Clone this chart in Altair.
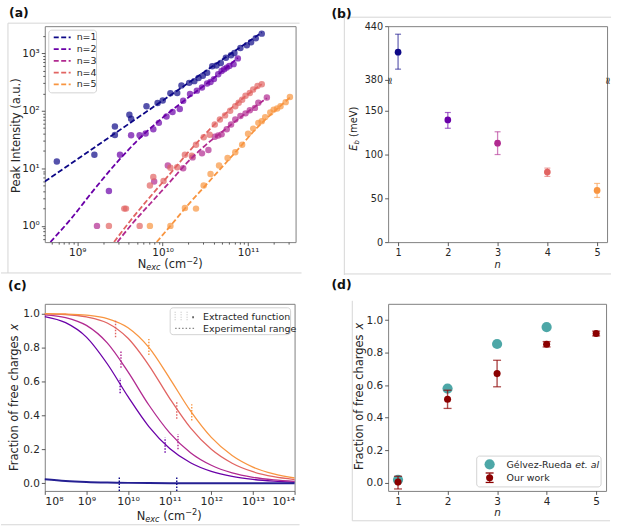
import altair as alt
import pandas as pd

# ---------------- data ----------------
SERIES = ["n=1", "n=2", "n=3", "n=4", "n=5"]
N_VALUES = [1, 2, 3, 4, 5]
COLORS_AC = ["#0d0887", "#6a00a8", "#b12a90", "#e16462", "#f89540"]
COLORS_B = ["#0d0887", "#6a00a8", "#b12a90", "#e16462", "#fca636"]

# (a) peak intensity vs excitation density (log10 readings)
a1_logN = [8.76, 9.20, 9.44, 9.44, 9.61, 9.63, 9.81, 9.94, 10.00, 10.09, 10.17, 10.22, 10.31, 10.37,
           10.42, 10.47, 10.52, 10.58, 10.63, 10.68, 10.74, 10.80, 10.84, 10.91, 10.985, 11.035, 11.09, 11.16]
a1_logI = [1.12, 1.235, 1.58, 1.725, 1.93, 1.86, 2.08, 2.135, 2.18, 2.305, 2.31, 2.44, 2.485, 2.515,
           2.57, 2.61, 2.66, 2.775, 2.785, 2.83, 2.92, 2.965, 3.005, 3.09, 3.14, 3.19, 3.26, 3.34]
a2_logN = [9.37, 9.50, 9.63, 9.73, 9.80, 9.89, 9.955, 10.045, 10.115, 10.20, 10.24, 10.32, 10.40, 10.46,
           10.52, 10.56, 10.60, 10.65, 10.69, 10.72, 10.75, 10.78, 10.83, 10.88]
a2_logI = [0.605, 1.235, 1.575, 1.575, 1.605, 1.68, 1.79, 1.90, 1.98, 2.03, 2.175, 2.29, 2.35, 2.405,
           2.475, 2.50, 2.55, 2.635, 2.69, 2.72, 2.75, 2.78, 2.81, 2.91]
a3_logN = [9.23, 9.90, 10.06, 10.24, 10.35, 10.46, 10.535, 10.61, 10.65, 10.69, 10.75, 10.80, 10.85,
           10.91, 10.97, 11.02, 11.08, 11.12, 11.22]
a3_logI = [0.0, 0.77, 1.05, 1.0, 1.19, 1.26, 1.32, 1.55, 1.57, 1.59, 1.68, 1.76, 1.85,
           1.91, 1.955, 2.01, 2.05, 2.14, 2.23]
a4_logN = [9.37, 9.55, 9.57, 9.73, 9.85, 9.89, 10.01, 10.09, 10.17, 10.26, 10.34, 10.39, 10.48, 10.55,
           10.61, 10.67, 10.73, 10.79, 10.85, 10.89, 10.93, 10.97, 11.02, 11.06, 11.11, 11.16]
a4_logI = [0.0, 0.30, 0.30, 0.0, 0.70, 0.85, 0.78, 1.01, 1.02, 1.235, 1.22, 1.41, 1.54, 1.585,
           1.76, 1.85, 1.92, 2.0, 2.08, 2.14, 2.19, 2.26, 2.31, 2.37, 2.43, 2.46]
a5_logN = [9.85, 10.09, 10.26, 10.39, 10.48, 10.56, 10.66, 10.76, 10.85, 10.93, 11.0, 11.06, 11.12,
           11.16, 11.20, 11.26, 11.30, 11.34, 11.38, 11.44, 11.49]
a5_logI = [0.0, 0.0, 0.31, 0.30, 0.70, 0.90, 1.05, 1.18, 1.28, 1.41, 1.60, 1.69, 1.79,
           1.82, 1.89, 1.97, 2.02, 2.04, 2.08, 2.15, 2.24]

# (a) fitted curves (log10 readings)
f1_logN = [8.619, 11.16]
f1_logI = [0.77, 3.36]
f2_logN = [8.685, 8.93, 9.18, 9.45, 9.735, 10.0, 10.3, 10.6, 10.88]
f2_logI = [-0.28, 0.13, 0.60, 1.08, 1.53, 1.88, 2.23, 2.57, 2.92]
f3_logN = [9.47, 9.65, 9.85, 10.1, 10.3, 10.5, 10.7, 10.95, 11.22]
f3_logI = [-0.28, 0.05, 0.38, 0.79, 1.12, 1.40, 1.64, 1.93, 2.22]
f4_logN = [9.43, 9.6, 9.85, 10.1, 10.3, 10.5, 10.7, 10.9, 11.16]
f4_logI = [-0.28, 0.05, 0.50, 0.93, 1.28, 1.60, 1.90, 2.17, 2.46]
f5_logN = [9.93, 10.09, 10.3, 10.5, 10.7, 10.9, 11.1, 11.3, 11.49]
f5_logI = [-0.28, 0.0, 0.37, 0.70, 1.03, 1.36, 1.70, 1.98, 2.23]

# (b) binding energies
b_Eb = [411, 139.5, 113, 80, 59]
b_lo = [392, 130, 100, 75, 51]
b_hi = [431, 148, 126, 84.5, 67]

# (c) fraction of free charges vs excitation density
c_logN = [8.0, 8.5, 9.0, 9.5, 10.0, 10.5, 11.0, 11.5, 12.0, 12.5, 13.0, 13.5, 14.0]
c_x1 = [0.023, 0.013, 0.0073, 0.0041, 0.0023, 0.0013, 0.0007, 0.0004, 0.0002, 0.0001, 0.00007, 0.00004, 0.00002]
c_x2 = [0.982, 0.946, 0.861, 0.704, 0.510, 0.334, 0.205, 0.121, 0.070, 0.040, 0.023, 0.013, 0.007]
c_x3 = [0.992, 0.976, 0.930, 0.827, 0.656, 0.461, 0.297, 0.180, 0.106, 0.061, 0.035, 0.020, 0.011]
c_x4 = [0.998, 0.994, 0.980, 0.944, 0.854, 0.695, 0.500, 0.326, 0.200, 0.118, 0.068, 0.039, 0.022]
c_x5 = [0.999, 0.997, 0.990, 0.970, 0.916, 0.800, 0.618, 0.426, 0.270, 0.163, 0.095, 0.055, 0.031]
# (c) experimental range markers
cr_series = ["n=1", "n=1", "n=2", "n=2", "n=3", "n=3", "n=4", "n=4", "n=5", "n=5"]
cr_logN = [9.79, 11.17, 9.81, 10.89, 9.83, 11.20, 9.70, 11.17, 10.50, 11.53]
cr_lo = [-0.045, -0.045, 0.53, 0.18, 0.68, 0.20, 0.86, 0.38, 0.755, 0.37]
cr_hi = [0.043, 0.043, 0.62, 0.27, 0.78, 0.29, 0.96, 0.48, 0.85, 0.465]

# (d) fraction of free charges per n
d_ref_n = [1, 2, 3, 4]
d_ref_x = [0.018, 0.579, 0.853, 0.957]
d_our_x = [0.004, 0.514, 0.671, 0.851, 0.918]
d_our_lo = [-0.038, 0.457, 0.590, 0.835, 0.903]
d_our_hi = [0.040, 0.569, 0.753, 0.868, 0.932]
LEGEND_D = ["Gélvez-Rueda ", "et. al", "Our work"]
LEGEND_C = ["Extracted function", "Experimental range"]
FRAC_TICKS = [0.0, 0.2, 0.4, 0.6, 0.8, 1.0]

# ---------------- helpers ----------------
FONT = "DejaVu Sans"
TXT = "#262626"
FRAME = "#d6d6d6"
ONE = pd.DataFrame({"k": [0]})

CW = {' ': .318, '(': .390, ')': .390, '-': .361, '−': .838, '.': .318, 'a': .613, 'b': .635, 'c': .550,
      'd': .635, 'e': .615, 'f': .352, 'g': .635, 'h': .634, 'i': .278, 'k': .579, 'l': .278, 'm': .974,
      'n': .634, 'o': .612, 'r': .411, 's': .521, 't': .392, 'u': .634, 'v': .592, 'w': .818, 'x': .592,
      'y': .592, 'z': .525, 'E': .632, 'F': .575, 'G': .775, 'N': .748, 'R': .695, 'V': .684, 'é': .615}
for _d in "0123456789":
    CW[_d] = .636


def tw(s, size):
    return sum(CW.get(ch, 0.6) for ch in s) * size


def txt(s, x, y, size, italic=False, bold=False, angle=0, align="left", baseline="middle", color=TXT):
    kw = dict(text=s, fontSize=size, font=FONT, align=align, baseline=baseline, color=color)
    if italic:
        kw["fontStyle"] = "italic"
    if bold:
        kw["fontWeight"] = "bold"
    if angle:
        kw["angle"] = angle
    return alt.Chart(ONE).mark_text(**kw).encode(x=alt.value(x), y=alt.value(y))


def hcomp(pieces, cx, ybase):
    total = sum(tw(p[0], p[1]) for p in pieces)
    x = cx - total / 2
    out = []
    for s, size, it, shift in pieces:
        core = s.lstrip(" ")
        lead = tw(s[:len(s) - len(core)], size)
        out.append(txt(core, x + lead, ybase + shift, size, italic=it, baseline="alphabetic"))
        x += tw(s, size)
    return out


def vcomp(pieces, xbase, cy):
    total = sum(tw(p[0], p[1]) for p in pieces)
    y = cy + total / 2
    out = []
    for s, size, it, shift in pieces:
        core = s.lstrip(" ")
        lead = tw(s[:len(s) - len(core)], size)
        out.append(txt(core, xbase + shift, y - lead, size, italic=it, angle=270, baseline="alphabetic"))
        y -= tw(s, size)
    return out


def hline(x1, x2, y, color=FRAME, dash=None, width=1.0):
    kw = dict(color=color, strokeWidth=width)
    if dash:
        kw["strokeDash"] = dash
    return alt.Chart(ONE).mark_rule(**kw).encode(x=alt.value(x1), x2=alt.value(x2), y=alt.value(y))


def vline(x, y1, y2, color=FRAME, dash=None, width=1.0, opacity=1.0):
    kw = dict(color=color, strokeWidth=width, opacity=opacity)
    if dash:
        kw["strokeDash"] = dash
    return alt.Chart(ONE).mark_rule(**kw).encode(x=alt.value(x), y=alt.value(y1), y2=alt.value(y2))


def box(x1, y1, x2, y2):
    return alt.Chart(ONE).mark_rect(fill="white", stroke="#cccccc", strokeWidth=1, cornerRadius=3,
                                    opacity=0.85).encode(x=alt.value(x1), x2=alt.value(x2),
                                                         y=alt.value(y1), y2=alt.value(y2))


SUP = str.maketrans("0123456789", "⁰¹²³⁴⁵⁶⁷⁸⁹")


def log_labels(exps):
    parts = [f"abs(log(datum.value)/LN10 - {e}) < 0.01 ? '10{str(e).translate(SUP)}'" for e in exps]
    return " : ".join(parts) + " : ''"


def frac_axis():
    return alt.Axis(values=FRAC_TICKS, format=".1f", title=None, tickCount=50,
                    labelFontSize=10.5, labelOverlap=False)


col_ac = alt.Scale(domain=SERIES, range=COLORS_AC)
col_b = alt.Scale(domain=SERIES, range=COLORS_B)

# ---------------- panel (a) ----------------
rows = []
for s, xs, ys in zip(SERIES, [a1_logN, a2_logN, a3_logN, a4_logN, a5_logN],
                     [a1_logI, a2_logI, a3_logI, a4_logI, a5_logI]):
    for lx, ly in zip(xs, ys):
        rows.append({"n": s, "N": 10 ** lx, "I": 10 ** ly})
df_a = pd.DataFrame(rows)
rows = []
for s, xs, ys in zip(SERIES, [f1_logN, f2_logN, f3_logN, f4_logN, f5_logN],
                     [f1_logI, f2_logI, f3_logI, f4_logI, f5_logI]):
    for k, (lx, ly) in enumerate(zip(xs, ys)):
        rows.append({"n": s, "N": 10 ** lx, "I": 10 ** ly, "k": k})
df_fit = pd.DataFrame(rows)

AW, AH = 252, 217
xa = alt.Scale(type="log", domain=[10 ** 8.619, 10 ** 11.556], nice=False)
ya = alt.Scale(type="log", domain=[10 ** -0.282, 10 ** 3.47], nice=False)
minor_x = [k * 10 ** e for e in (8, 9, 10, 11) for k in range(2, 10) if 10 ** 8.619 < k * 10 ** e < 10 ** 11.556]
minor_y = [k * 10 ** e for e in (-1, 0, 1, 2, 3) for k in range(2, 10) if 10 ** -0.282 < k * 10 ** e < 10 ** 3.47]

a_pts = alt.Chart(df_a).mark_circle(size=42, opacity=0.7).encode(
    x=alt.X("N:Q", scale=xa, axis=alt.Axis(values=[1e9, 1e10, 1e11], labelExpr=log_labels([9, 10, 11]),
                                            title=None, labelFontSize=10.5, labelOverlap=False, tickCount=50)),
    y=alt.Y("I:Q", scale=ya, axis=alt.Axis(values=[1, 10, 100, 1000], labelExpr=log_labels([0, 1, 2, 3]),
                                            title=None, labelFontSize=10.5, labelOverlap=False, tickCount=50)),
    color=alt.Color("n:N", scale=col_ac, legend=None))
a_fit = alt.Chart(df_fit).mark_line(strokeWidth=1.8, strokeDash=[5.5, 2.5], interpolate="monotone", clip=True).encode(
    x=alt.X("N:Q", scale=xa, axis=None), y=alt.Y("I:Q", scale=ya, axis=None),
    color=alt.Color("n:N", scale=col_ac, legend=None), order="k:Q")
a_minor = alt.Chart(df_a).mark_point(opacity=0).encode(
    x=alt.X("N:Q", scale=xa, axis=alt.Axis(values=minor_x, labels=False, tickSize=2, title=None, orient="bottom",
                                            tickCount=200)),
    y=alt.Y("I:Q", scale=ya, axis=alt.Axis(values=minor_y, labels=False, tickSize=2, title=None, orient="left",
                                            tickCount=200)))

a_extra = [hline(-37, 256, -3), vline(-37, -3, 248), hline(-44, 258, 248),
           txt("(a)", -36, -13, 12.5, bold=True, color="#111111"),
           box(4, 4, 52, 67)]
for i, s in enumerate(SERIES):
    yy = 11.3 + i * 11.8
    a_extra.append(hline(9, 26, yy, color=COLORS_AC[i], dash=[5, 2.5], width=1.8))
    a_extra.append(txt(s, 32, yy, 9.5))
a_extra += hcomp([("N", 11.5, False, 0), ("exc", 8.2, True, 2.5), (" (cm", 11.5, False, 0),
                  ("−2", 8.2, False, -4.5), (")", 11.5, False, 0)], 126, 243)
a_extra += vcomp([("Peak Intensity (a.u.)", 11.5, False, 0)], -25, 108)

pa = alt.layer(a_pts, a_fit, a_minor, *a_extra).properties(width=AW, height=AH).resolve_axis(
    x="independent", y="independent")

# ---------------- panel (b) ----------------
BW, BH = 220, 217
df_b = pd.DataFrame({"n": N_VALUES, "E": b_Eb, "lo": b_lo, "hi": b_hi, "s": SERIES})
xb = alt.Scale(domain=[0.8, 5.2], nice=False, zero=False)
yb = alt.Scale(domain=[0, 150, 380, 440], range=[BH, 85, 54, 0], nice=False, zero=False)
bx_axis = alt.Axis(values=N_VALUES, format="d", title=None, labelFontSize=9.7, tickCount=50)
by_axis = alt.Axis(values=[0, 50, 100, 150, 380, 440], format="d", title=None, labelFontSize=9.7,
                   labelOverlap=False, tickCount=50)
b_err = alt.Chart(df_b).mark_rule(strokeWidth=1.3, opacity=0.6).encode(
    x=alt.X("n:Q", scale=xb, axis=bx_axis), y=alt.Y("lo:Q", scale=yb, axis=by_axis), y2="hi:Q",
    color=alt.Color("s:N", scale=col_b, legend=None))
b_cap_lo = alt.Chart(df_b).mark_tick(orient="horizontal", size=6, thickness=1.2, opacity=0.6).encode(
    x=alt.X("n:Q", scale=xb), y=alt.Y("lo:Q", scale=yb), color=alt.Color("s:N", scale=col_b, legend=None))
b_cap_hi = alt.Chart(df_b).mark_tick(orient="horizontal", size=6, thickness=1.2, opacity=0.6).encode(
    x=alt.X("n:Q", scale=xb), y=alt.Y("hi:Q", scale=yb), color=alt.Color("s:N", scale=col_b, legend=None))
b_pts = alt.Chart(df_b).mark_circle(size=45, opacity=1).encode(
    x=alt.X("n:Q", scale=xb), y=alt.Y("E:Q", scale=yb), color=alt.Color("s:N", scale=col_b, legend=None))
b_extra = [hline(-44, 224, -9), vline(-44, -9, 250), hline(-44, 224, 249),
           txt("(b)", -57, -12, 12.5, bold=True, color="#111111"),
           txt("≈", 2, 55, 10, angle=90, align="center"), txt("≈", 221, 55, 10, angle=90, align="center"),
           txt("n", 110, 240, 10, italic=True, align="center")]
b_extra += vcomp([("E", 10, True, 0), ("b", 7, True, 2.2), (" (meV)", 10, False, 0)], -31.5, 103)
pb = alt.layer(b_err, b_cap_lo, b_cap_hi, b_pts, *b_extra).properties(width=BW, height=BH)

# ---------------- panel (c) ----------------
CWID, CH = 251, 188
rows = []
for s, ys in zip(SERIES, [c_x1, c_x2, c_x3, c_x4, c_x5]):
    for lx, v in zip(c_logN, ys):
        rows.append({"n": s, "N": 10 ** lx, "x": v})
df_c = pd.DataFrame(rows)
df_cr = pd.DataFrame({"n": cr_series, "N": [10 ** v for v in cr_logN], "lo": cr_lo, "hi": cr_hi})
xc = alt.Scale(type="log", domain=[1e8, 1e14], nice=False)
yc = alt.Scale(domain=[-0.045, 1.057], nice=False, zero=False)
c_lines = alt.Chart(df_c).transform_filter(alt.datum.n != "n=1").mark_line(
    strokeWidth=1.3, interpolate="monotone").encode(
    x=alt.X("N:Q", scale=xc, axis=alt.Axis(values=[10 ** e for e in range(8, 15)],
                                            labelExpr=log_labels(list(range(8, 15))), title=None,
                                            labelFontSize=11, labelOverlap=False, labelPadding=1,
                                            tickCount=50)),
    y=alt.Y("x:Q", scale=yc, axis=frac_axis()),
    color=alt.Color("n:N", scale=col_ac, legend=None))
c_line1 = alt.Chart(df_c).transform_filter(alt.datum.n == "n=1").mark_line(
    strokeWidth=2, interpolate="monotone", opacity=0.9).encode(
    x=alt.X("N:Q", scale=xc), y=alt.Y("x:Q", scale=yc), color=alt.Color("n:N", scale=col_ac, legend=None))
c_rng = alt.Chart(df_cr).mark_rule(strokeWidth=1.4, strokeDash=[1.5, 1.5]).encode(
    x=alt.X("N:Q", scale=xc), y=alt.Y("lo:Q", scale=yc), y2="hi:Q",
    color=alt.Color("n:N", scale=col_ac, legend=None))
c_extra = [hline(-44, 256, 222), txt("(c)", -37, -18, 12.5, bold=True, color="#111111"),
           box(126, 4, 247, 31),
           vline(131, 8, 18, color="#bbbbbb", dash=[1, 1.5]), vline(137, 8, 18, color="#bbbbbb", dash=[1, 1.5]),
           vline(143, 8, 18, color="#bbbbbb", dash=[1, 1.5]), vline(149, 12.5, 14.5, color="#444444", width=1.5),
           hline(131, 152, 24.7, color="#888888", dash=[1.5, 2], width=1.2),
           txt(LEGEND_C[0], 159, 13.5, 9.5), txt(LEGEND_C[1], 159, 25, 9.5)]
c_extra += hcomp([("N", 11.5, False, 0), ("exc", 8.2, True, 2.5), (" (cm", 11.5, False, 0),
                  ("−2", 8.2, False, -4.5), (")", 11.5, False, 0)], 125, 217)
c_extra += vcomp([("Fraction of free charges ", 11.5, False, 0), ("x", 11.5, True, 0)], -26.5, 94)
pc = alt.layer(c_lines, c_line1, c_rng, *c_extra).properties(width=CWID, height=CH)

# ---------------- panel (d) ----------------
DW, DH = 219, 188
df_dref = pd.DataFrame({"n": d_ref_n, "x": d_ref_x})
df_dour = pd.DataFrame({"n": N_VALUES, "x": d_our_x, "lo": d_our_lo, "hi": d_our_hi})
xd = alt.Scale(domain=[0.8, 5.2], nice=False, zero=False)
yd = alt.Scale(domain=[-0.05, 1.1], nice=False, zero=False)
TEAL = "#3a9d9d"
DRED = "#8b0000"
d_ref = alt.Chart(df_dref).mark_circle(size=105, color=TEAL, opacity=0.9).encode(
    x=alt.X("n:Q", scale=xd, axis=alt.Axis(values=N_VALUES, format="d", title=None, labelFontSize=10.5,
                                            tickCount=50)),
    y=alt.Y("x:Q", scale=yd, axis=frac_axis()))
d_err = alt.Chart(df_dour).mark_rule(color=DRED, strokeWidth=1.4, opacity=0.7).encode(
    x=alt.X("n:Q", scale=xd), y=alt.Y("lo:Q", scale=yd), y2="hi:Q")
d_cap_lo = alt.Chart(df_dour).mark_tick(orient="horizontal", size=8, thickness=1.3, color=DRED, opacity=0.7).encode(
    x=alt.X("n:Q", scale=xd), y=alt.Y("lo:Q", scale=yd))
d_cap_hi = alt.Chart(df_dour).mark_tick(orient="horizontal", size=8, thickness=1.3, color=DRED, opacity=0.7).encode(
    x=alt.X("n:Q", scale=xd), y=alt.Y("hi:Q", scale=yd))
d_pts = alt.Chart(df_dour).mark_circle(size=50, color=DRED, opacity=1).encode(
    x=alt.X("n:Q", scale=xd), y=alt.Y("x:Q", scale=yd))
d_extra = [vline(-36, -3, 218), hline(-36, 223, 218),
           txt("(d)", -57, -19, 12.5, bold=True, color="#111111"),
           txt("n", 110, 210, 10.5, italic=True, align="center"),
           box(89, 153, 214, 184),
           alt.Chart(ONE).mark_circle(size=105, color=TEAL, opacity=0.9).encode(x=alt.value(102), y=alt.value(161.3)),
           vline(102, 170, 179.5, color=DRED, width=1.4, opacity=0.7),
           hline(98, 106, 170, color=DRED, width=1.3), hline(98, 106, 179.5, color=DRED, width=1.3),
           alt.Chart(ONE).mark_circle(size=50, color=DRED, opacity=1).encode(x=alt.value(102), y=alt.value(174.7)),
           txt(LEGEND_D[0].strip(), 119, 161.5, 9.5),
           txt(LEGEND_D[1], 119 + tw(LEGEND_D[0], 9.5), 161.5, 9.5, italic=True),
           txt(LEGEND_D[2], 119, 175, 9.5)]
d_extra += vcomp([("Fraction of free charges ", 11.5, False, 0), ("x", 11.5, True, 0)], -25, 93)
pd_ = alt.layer(d_ref, d_err, d_cap_lo, d_cap_hi, d_pts, *d_extra).properties(width=DW, height=DH)

chart = alt.concat(pa, pb, pc, pd_, columns=2, spacing={"row": 2, "column": 28}).properties(
    padding={"left": 0, "top": 5, "right": 5, "bottom": 5}
).configure_view(stroke="#808080", strokeWidth=1).configure_axis(
    domain=False, grid=False, tickColor="#333333", tickSize=3.5, tickWidth=0.8, labelColor=TXT,
    labelFont=FONT, labelPadding=2, labelOverlap=False)

chart.save("out.html", embed_options={"renderer": "svg", "actions": False})
